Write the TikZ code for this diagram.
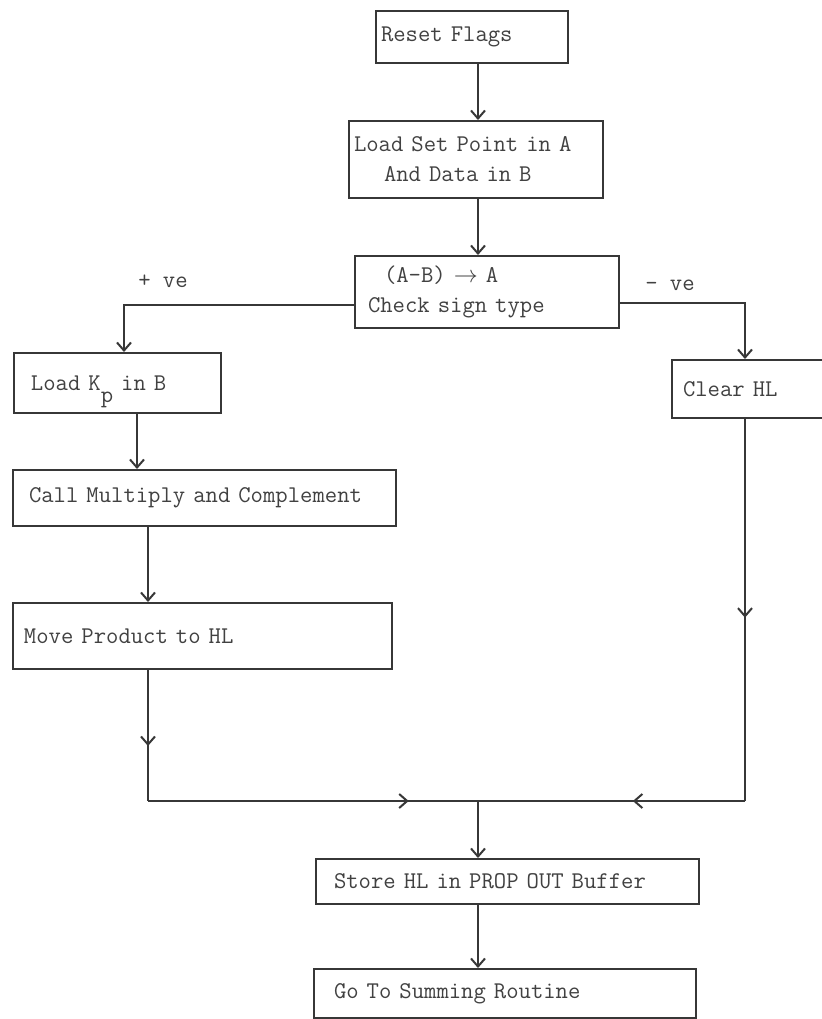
\documentclass[tikz,border=0pt]{standalone}
\usepackage{tikz}
\usetikzlibrary{arrows.meta, positioning, decorations.markings}
\definecolor{inkgray}{RGB}{55,55,55}
\definecolor{typegray}{RGB}{65,65,65}

\tikzset{
  procbox/.style={draw=inkgray, line width=1pt, rectangle, anchor=north west,
    align=left, inner ysep=1pt, text=typegray,
    font=\ttfamily\fontsize{12}{15}\selectfont},
  sidelabel/.style={text=typegray, font=\ttfamily\fontsize{12}{15}\selectfont},
  link/.style={draw=inkgray, line width=1pt},
  flow/.style={link, -{Straight Barb[length=4pt,width=7pt]}},
  midarrow/.style={postaction={decorate}, decoration={markings,
    mark=at position #1 with {\arrow{Straight Barb[length=4pt,width=7pt]}}}}
}

\begin{document}
\begin{tikzpicture}[x=0.5pt, y=-0.5pt]
  \fill[white] (0,0) rectangle (822,1019);
  \clip (0,0) rectangle (822,1019);

  % main column
  \node[procbox, text width=91pt, inner xsep=2.5pt, minimum height=26pt] (reset) at (375,10) {Reset Flags};
  \node[procbox, text width=122pt, inner xsep=2.5pt, minimum height=38.5pt] (loadab) at (348,120)
      {Load Set Point in A\\\hspace*{15pt}And Data in B};
  \node[procbox, text width=119pt, inner xsep=6.5pt, minimum height=36pt] (check) at (354,255)
      {\hspace*{8pt}(A-B) $\rightarrow$ A\\Check sign type};

  % positive branch
  \node[procbox, text width=86.5pt, inner xsep=8.5pt, minimum height=30pt] (kp) at (13,352)
      {Load K\smash{\raisebox{-1.2ex}{p}} in B};
  \node[procbox, text width=175.5pt, inner xsep=8pt, minimum height=28pt] (call) at (12,469)
      {Call Multiply and Complement};
  \node[procbox, text width=178.5pt, inner xsep=5.5pt, minimum height=33pt] (move) at (12,602)
      {Move Product to HL};

  % negative branch
  \node[procbox, text width=74pt, inner xsep=5.5pt, minimum height=29pt] (clear) at (671,359) {Clear HL};

  % common tail
  \node[procbox, text width=173.5pt, inner xsep=9pt, minimum height=22.5pt] (store) at (315,858)
      {Store HL in PROP OUT Buffer};
  \node[procbox, text width=171pt, inner xsep=10pt, minimum height=24.5pt] (go) at (313,968)
      {Go To Summing Routine};

  \node[sidelabel] (plus) at (163,281) {+ ve};
  \node[sidelabel] (minus) at (670,285) {- ve};

  \coordinate (spine) at (478,0);
  \coordinate (pbend) at (124,305);
  \coordinate (mbend) at (745,303);
  \coordinate (kpx) at (137,0);
  \coordinate (movex) at (148,0);
  \coordinate (lcorner) at (148,801);
  \coordinate (rcorner) at (745,801);
  \coordinate (join) at (478,801);

  \draw[flow] (reset.south -| spine) -- (loadab.north -| spine);
  \draw[flow] (loadab.south -| spine) -- (check.north -| spine);
  \draw[flow] (pbend -| check.west) -- (pbend) -- (kp.north -| pbend);
  \draw[flow] (mbend -| check.east) -- (mbend) -- (clear.north -| mbend);
  \draw[flow] (kp.south -| kpx) -- (call.north -| kpx);
  \draw[flow] (call.south -| movex) -- (move.north -| movex);

  % merging the two branches
  \draw[link, midarrow=0.58] (move.south -| movex) -- (lcorner);
  \draw[link, midarrow=0.52] (clear.south -| mbend) -- (rcorner);
  \draw[link, midarrow=0.79] (lcorner) -- (join);
  \draw[link, midarrow=0.42] (rcorner) -- (join);
  \draw[flow] (join) -- (store.north -| join);
  \draw[flow] (store.south -| spine) -- (go.north -| spine);
\end{tikzpicture}
\end{document}
